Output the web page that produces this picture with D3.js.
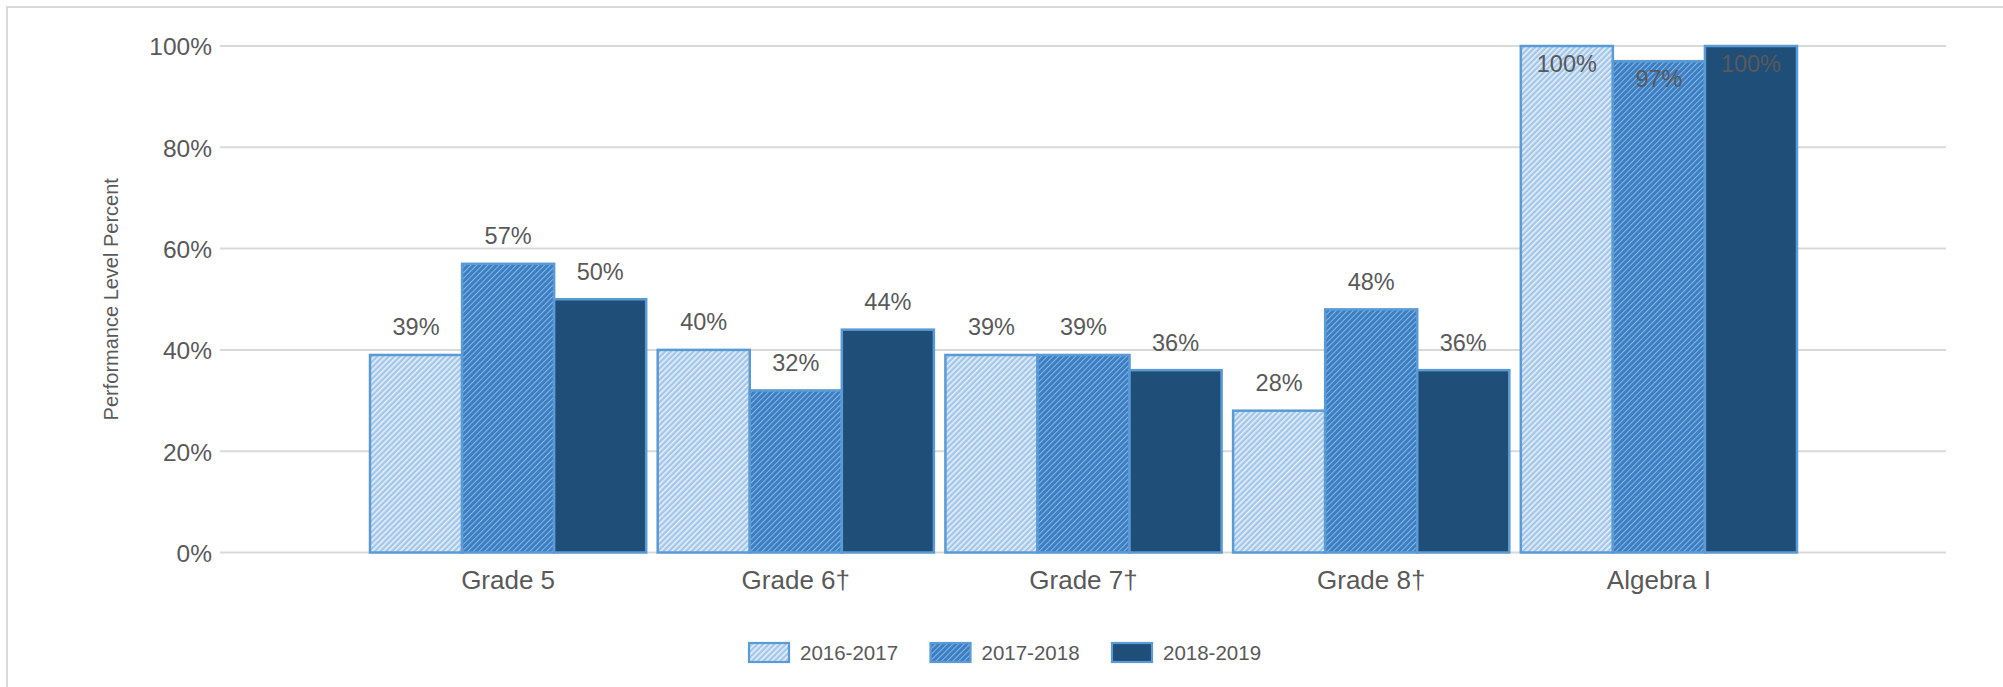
<!DOCTYPE html>
<html>
<head>
<meta charset="utf-8">
<script src="https://cdn.jsdelivr.net/npm/d3@7"></script>
<style>
  html, body { margin: 0; padding: 0; background: #fff; }
  svg { display: block; font-family: "Liberation Sans", Arial, sans-serif; }
</style>
</head>
<body>
<svg id="chart" width="2003" height="687"></svg>
<script>
// Performance level percent by assessment and school year
const categories = ["Grade 5", "Grade 6\u2020", "Grade 7\u2020", "Grade 8\u2020", "Algebra I"];
const seriesNames = ["2016-2017", "2017-2018", "2018-2019"];
const values2016 = [39, 40, 39, 28, 100];
const values2017 = [57, 32, 39, 48, 97];
const values2018 = [50, 44, 36, 36, 100];
const yTicks = [0, 20, 40, 60, 80, 100];

const seriesValues = [values2016, values2017, values2018];

const svg = d3.select("#chart");
const textColor = "#595959";
const gridColor = "#d9d9d9";
const edgeBlue = "#5b9bd5";

// outer frame
svg.append("rect")
  .attr("x", 7).attr("y", 7)
  .attr("width", 2100).attr("height", 800)
  .attr("fill", "none").attr("stroke", gridColor).attr("stroke-width", 2);

// hatch fills
const defs = svg.append("defs");
function hatch(id, base, stripe, w) {
  const p = defs.append("pattern")
    .attr("id", id)
    .attr("patternUnits", "userSpaceOnUse")
    .attr("width", 4).attr("height", 4)
    .attr("patternTransform", "rotate(45)");
  p.append("rect").attr("width", 4).attr("height", 4).attr("fill", base);
  p.append("rect").attr("x", 0).attr("y", 0).attr("width", w).attr("height", 4).attr("fill", stripe);
}
hatch("hatchLight", "#a3c6e9", "#e6f0fa", 1.6);
hatch("hatchMid", "#3a7dc2", "#86b4e3", 1.1);
const fills = ["url(#hatchLight)", "url(#hatchMid)", "#1f4e79"];

const plotTop = 46, plotBottom = 552.5;
const gridLeft = 220, gridRight = 1946;

const y = d3.scaleLinear().domain([0, 100]).range([plotBottom, plotTop]);
const x = d3.scaleBand().domain(categories).range([370, 1797]).paddingInner(0.04).paddingOuter(0);
const xs = d3.scaleBand().domain(seriesNames).range([0, x.bandwidth()]);

// gridlines
svg.append("g").selectAll("line").data(yTicks).join("line")
  .attr("x1", gridLeft).attr("x2", gridRight)
  .attr("y1", d => y(d)).attr("y2", d => y(d))
  .attr("stroke", gridColor).attr("stroke-width", 2);

// y axis labels
const yAxis = d3.axisLeft(y).tickValues(yTicks).tickFormat(d => d + "%").tickSize(0).tickPadding(0);
const gy = svg.append("g").attr("transform", `translate(212,0)`).call(yAxis);
gy.select(".domain").remove();
gy.selectAll("text")
  .attr("font-size", 24.5).attr("fill", textColor)
  .attr("font-family", "Liberation Sans, Arial, sans-serif")
  .attr("dy", "0.36em");

// category labels
const xAxis = d3.axisBottom(x).tickSize(0).tickPadding(0);
const gx = svg.append("g").attr("transform", `translate(0,${plotBottom})`).call(xAxis);
gx.select(".domain").remove();
gx.selectAll("text")
  .attr("font-size", 26).attr("fill", textColor)
  .attr("font-family", "Liberation Sans, Arial, sans-serif")
  .attr("dy", null).attr("y", 36.5);

// bars
const rows = categories.flatMap((c, ci) =>
  seriesNames.map((s, si) => ({ cat: c, series: s, si, value: seriesValues[si][ci] })));

svg.append("g").selectAll("rect").data(rows).join("rect")
  .attr("x", d => x(d.cat) + xs(d.series))
  .attr("y", d => y(d.value))
  .attr("width", xs.bandwidth())
  .attr("height", d => plotBottom - y(d.value))
  .attr("fill", d => fills[d.si])
  .attr("stroke", edgeBlue).attr("stroke-width", 2.5);

// value labels: above the bar, or just inside its top when there's no room
const capH = 17;
svg.append("g").selectAll("text").data(rows).join("text")
  .attr("x", d => x(d.cat) + xs(d.series) + xs.bandwidth() / 2)
  .attr("y", d => {
    const top = y(d.value);
    return (top - 19.5 - capH < plotTop) ? top + 26 : top - 19.5;
  })
  .attr("text-anchor", "middle")
  .attr("font-size", 23.5).attr("fill", textColor)
  .text(d => d.value + "%");

// y axis title
svg.append("text")
  .attr("transform", `translate(118,${(plotTop + plotBottom) / 2}) rotate(-90)`)
  .attr("text-anchor", "middle")
  .attr("font-size", 20).attr("fill", textColor)
  .text("Performance Level Percent");

// legend
const legend = svg.append("g").selectAll("g").data(seriesNames).join("g")
  .attr("transform", (d, i) => `translate(${749 + i * 181.5},643)`);
legend.append("rect")
  .attr("width", 40).attr("height", 19)
  .attr("fill", (d, i) => fills[i])
  .attr("stroke", edgeBlue).attr("stroke-width", 2.2);
legend.append("text")
  .attr("x", 51).attr("y", 16.5)
  .attr("font-size", 20.5).attr("fill", textColor)
  .text(d => d);
</script>
</body>
</html>
